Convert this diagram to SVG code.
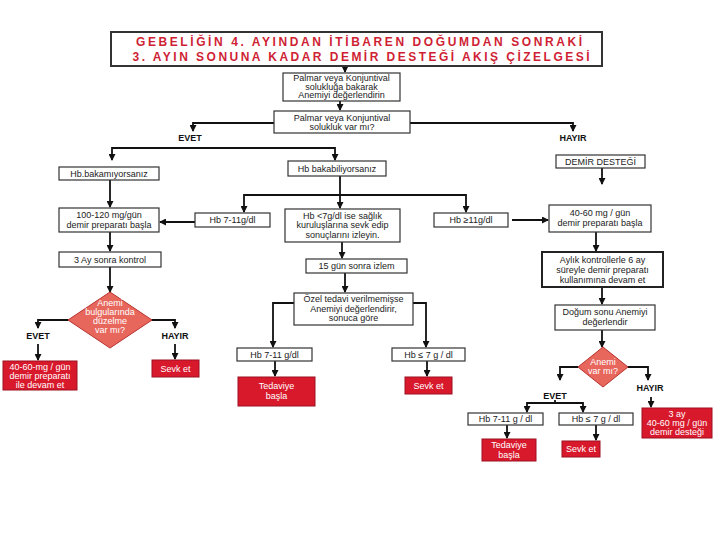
<svg xmlns="http://www.w3.org/2000/svg" width="720" height="540" viewBox="0 0 720 540">
<style>
text{font-family:"Liberation Sans",Arial,sans-serif;text-anchor:middle;}
.box{fill:#fff;stroke:#333;stroke-width:1.2;}
.thick{fill:#fff;stroke:#222;stroke-width:2;}
.red{fill:#D8192C;stroke:#9c1020;stroke-width:1;}
.dia{fill:#E8675D;stroke:#b8322c;stroke-width:1;}
.t{font-size:9px;fill:#222;}
.tw{font-size:9px;fill:#fff;}
.lbl{font-size:9px;font-weight:bold;fill:#111;}
.title{font-size:12px;font-weight:bold;fill:#CF1F35;}
.c{fill:none;stroke:#111;stroke-width:1.8;}
.ca{fill:none;stroke:#111;stroke-width:1.8;marker-end:url(#ah);}
</style>
<defs>
<marker id="ah" markerUnits="userSpaceOnUse" markerWidth="7" markerHeight="7" refX="6" refY="3.5" orient="auto">
<path d="M0,0 L7,3.5 L0,7 z" fill="#111"/>
</marker>
</defs>
<rect width="720" height="540" fill="#fff"/>

<g id="connectors">
<path class="ca" d="M345,66 V72"/>
<path class="ca" d="M340,101 V110"/>
<path class="ca" d="M274,123 H193 V131"/>
<path class="ca" d="M410,123 H573 V131"/>
<path class="ca" d="M224,148 H112 V160"/>
<path class="ca" d="M224,148 H335 V160"/>
<path class="ca" d="M110,180 V207"/>
<path class="ca" d="M110,232 V251"/>
<path class="ca" d="M110,267 V292"/>
<path class="ca" d="M69,320 H38 V328"/>
<path class="ca" d="M38,344 V360"/>
<path class="ca" d="M151,320 H175 V328"/>
<path class="ca" d="M175,344 V359"/>
<path class="c" d="M340,176 V195"/>
<path class="ca" d="M340,195 H244 V212"/>
<path class="ca" d="M340,195 H466 V212"/>
<path class="ca" d="M340,195 V208"/>
<path class="ca" d="M195,222 H160"/>
<path class="ca" d="M512,220 H548"/>
<path class="ca" d="M342,242 V258"/>
<path class="ca" d="M345,273 V292"/>
<path class="ca" d="M294,303 H273 V347"/>
<path class="ca" d="M413,303 H426 V347"/>
<path class="ca" d="M275,361 V376"/>
<path class="ca" d="M427,361 V376"/>
<path class="ca" d="M602,168 V184"/>
<path class="ca" d="M596,232 V251"/>
<path class="ca" d="M602,287 V304"/>
<path class="ca" d="M602,330 V347"/>
<path class="ca" d="M578,367 H560 V380"/>
<path class="ca" d="M628,367 H648 V380"/>
<path class="ca" d="M651,397 V407"/>
<path class="c" d="M555,400 V403"/>
<path class="ca" d="M555,403 H527 V412"/>
<path class="ca" d="M555,403 H583 V412"/>
<path class="ca" d="M507,425 V438"/>
<path class="ca" d="M596,425 V440"/>
</g>

<g id="title">
<rect x="111" y="32" width="491" height="34" fill="#fff" stroke="#333" stroke-width="2"/>
<text class="title" x="359" y="46" textLength="446" lengthAdjust="spacing">GEBELİĞİN 4. AYINDAN İTİBAREN DOĞUMDAN SONRAKİ</text>
<text class="title" x="361" y="60.5" textLength="457" lengthAdjust="spacing">3. AYIN SONUNA KADAR DEMİR DESTEĞİ AKIŞ ÇİZELGESİ</text>
</g>

<g id="n_assess">
<rect class="box" x="283" y="73" width="117" height="28"/>
<text class="t" x="341.5" y="81">Palmar veya Konjuntival</text>
<text class="t" x="341.5" y="89.5">solukluğa bakarak</text>
<text class="t" x="341.5" y="98">Anemiyi değerlendirin</text>
</g>

<g id="n_q1">
<rect class="box" x="274" y="111" width="136" height="22"/>
<text class="t" x="342" y="120.5" font-size="9.5">Palmar veya Konjuntival</text>
<text class="t" x="342" y="129.5" font-size="9.5">solukluk var mı?</text>
</g>

<g id="lbl_evet1"><text class="lbl" x="190" y="141">EVET</text></g>
<g id="lbl_hayir1"><text class="lbl" x="573" y="141">HAYIR</text></g>

<g id="n_hbno">
<rect class="box" x="59" y="167" width="100" height="13"/>
<text class="t" x="109" y="176.5">Hb.bakamıyorsanız</text>
</g>

<g id="n_hbyes">
<rect class="box" x="288" y="161" width="98" height="15"/>
<text class="t" x="337" y="171.5">Hb bakabiliyorsanız</text>
</g>

<g id="n_100">
<rect class="box" x="59" y="208" width="100" height="24"/>
<text class="t" x="109" y="218">100-120 mg/gün</text>
<text class="t" x="109" y="228">demir preparatı başla</text>
</g>

<g id="n_3ay">
<rect class="box" x="59" y="252" width="102" height="15"/>
<text class="t" x="110" y="262.5">3 Ay sonra kontrol</text>
</g>

<g id="d_left">
<polygon class="dia" points="110,292 152,320 110,348 68,320"/>
<text class="tw" x="110" y="306" font-size="8">Anemi</text>
<text class="tw" x="110" y="315" font-size="8">bulgularında</text>
<text class="tw" x="110" y="324" font-size="8">düzelme</text>
<text class="tw" x="110" y="333" font-size="8">var mı?</text>
</g>

<g id="lbl_evet2"><text class="lbl" x="38" y="339">EVET</text></g>
<g id="lbl_hayir2"><text class="lbl" x="175" y="339">HAYIR</text></g>

<g id="r_left">
<rect class="red" x="3" y="361" width="74" height="29"/>
<text class="tw" x="40" y="370">40-60-mg / gün</text>
<text class="tw" x="40" y="379">demir preparatı</text>
<text class="tw" x="40" y="388">ile devam et</text>
</g>

<g id="r_sevk1">
<rect class="red" x="152" y="360" width="47" height="17"/>
<text class="tw" x="175.5" y="371.5">Sevk et</text>
</g>

<g id="n_hb711a">
<rect class="box" x="195" y="213" width="75" height="14"/>
<text class="t" x="232.5" y="223">Hb 7-11g/dl</text>
</g>

<g id="n_mid">
<rect class="box" x="285" y="209" width="115" height="33"/>
<text class="t" x="342.5" y="218.5">Hb &lt;7g/dl ise sağlık</text>
<text class="t" x="342.5" y="228">kuruluşlarına sevk edip</text>
<text class="t" x="342.5" y="237.5">sonuçlarını izleyin.</text>
</g>

<g id="n_hb11">
<rect class="box" x="434" y="213" width="74" height="14"/>
<text class="t" x="471" y="223">Hb ≥11g/dl</text>
</g>

<g id="n_15">
<rect class="box" x="306" y="259" width="101" height="14"/>
<text class="t" x="356.5" y="269">15 gün sonra izlem</text>
</g>

<g id="n_ozel">
<rect class="box" x="294" y="293" width="119" height="32"/>
<text class="t" x="353.5" y="302">Özel tedavi verilmemişse</text>
<text class="t" x="353.5" y="311.5">Anemiyi değerlendirir,</text>
<text class="t" x="353.5" y="321">sonuca göre</text>
</g>

<g id="n_hb711b">
<rect class="box" x="237" y="348" width="75" height="13"/>
<text class="t" x="274.5" y="357.5">Hb 7-11 g/dl</text>
</g>

<g id="n_hb7b">
<rect class="box" x="392" y="348" width="73" height="13"/>
<text class="t" x="428.5" y="357.5">Hb ≤ 7 g / dl</text>
</g>

<g id="r_tedavi1">
<rect class="red" x="238" y="377" width="77" height="29"/>
<text class="tw" x="276.5" y="389">Tedaviye</text>
<text class="tw" x="276.5" y="399">başla</text>
</g>

<g id="r_sevk2">
<rect class="red" x="405" y="377" width="47" height="17"/>
<text class="tw" x="428.5" y="388.5">Sevk et</text>
</g>

<g id="n_demir">
<rect class="box" x="556" y="155" width="89" height="13"/>
<text class="t" x="600.5" y="164.5" fill="#444">DEMİR DESTEĞİ</text>
</g>

<g id="n_4060">
<rect class="box" x="549" y="205" width="102" height="27"/>
<text class="t" x="600" y="216" font-size="9.5">40-60 mg / gün</text>
<text class="t" x="600" y="226" font-size="9.5">demir preparatı başla</text>
</g>

<g id="n_aylik">
<rect class="thick" x="542" y="252" width="121" height="35"/>
<text class="t" x="602.5" y="263">Aylık kontrollerle 6 ay</text>
<text class="t" x="602.5" y="273">süreyle demir preparatı</text>
<text class="t" x="602.5" y="283">kullanımına devam et</text>
</g>

<g id="n_dogum">
<rect class="box" x="555" y="305" width="100" height="25"/>
<text class="t" x="605" y="315">Doğum sonu Anemiyi</text>
<text class="t" x="605" y="325">değerlendir</text>
</g>

<g id="d_right">
<polygon class="dia" points="603,347 628,367 603,387 578,367"/>
<text class="tw" x="603" y="365" font-size="8.5">Anemi</text>
<text class="tw" x="603" y="374" font-size="8.5">var mı?</text>
</g>

<g id="lbl_evet3"><text class="lbl" x="555" y="399">EVET</text></g>
<g id="lbl_hayir3"><text class="lbl" x="650" y="391">HAYIR</text></g>

<g id="n_hb711c">
<rect class="box" x="468" y="413" width="75" height="12"/>
<text class="t" x="505.5" y="422">Hb 7-11 g / dl</text>
</g>

<g id="n_hb7c">
<rect class="box" x="559" y="413" width="74" height="12"/>
<text class="t" x="596" y="422">Hb ≤ 7 g / dl</text>
</g>

<g id="r_3ay">
<rect class="red" x="642" y="408" width="70" height="30"/>
<text class="tw" x="677" y="417">3 ay</text>
<text class="tw" x="677" y="426">40-60 mg / gün</text>
<text class="tw" x="677" y="435">demir desteği</text>
</g>

<g id="r_tedavi2">
<rect class="red" x="482" y="439" width="54" height="22"/>
<text class="tw" x="509" y="448">Tedaviye</text>
<text class="tw" x="509" y="457.5">başla</text>
</g>

<g id="r_sevk3">
<rect class="red" x="562" y="441" width="38" height="16"/>
<text class="tw" x="581" y="452">Sevk et</text>
</g>
</svg>
